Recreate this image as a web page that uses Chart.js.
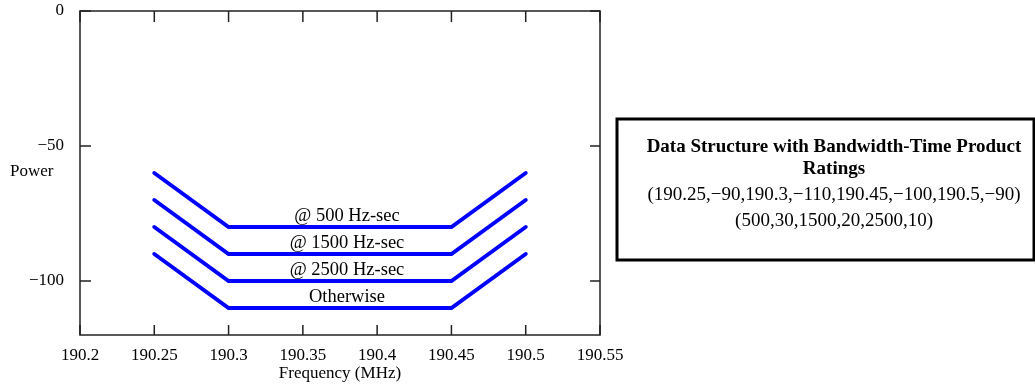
<!DOCTYPE html>
<html>
<head>
<meta charset="utf-8">
<script src="https://cdn.jsdelivr.net/npm/chart.js@4"></script>
<style>
  html, body { margin: 0; padding: 0; background: #fff; }
  #chart { display: block; }
</style>
</head>
<body>
<canvas id="chart" width="1035" height="385"></canvas>
<script>
// frequency points (MHz) shared by all four mask lines
const freq = [190.25, 190.3, 190.45, 190.5];
const power500 = [-60, -80, -80, -60];
const power1500 = [-70, -90, -90, -70];
const power2500 = [-80, -100, -100, -80];
const powerOther = [-90, -110, -110, -90];
const lineLabels = ['@ 500 Hz-sec', '@ 1500 Hz-sec', '@ 2500 Hz-sec', 'Otherwise'];

const xTicks = [190.2, 190.25, 190.3, 190.35, 190.4, 190.45, 190.5, 190.55];
const yTicks = [0, -50, -100];

const boxTitle = ['Data Structure with Bandwidth-Time Product', 'Ratings'];
const boxRow1 = [190.25, -90, 190.3, -110, 190.45, -100, 190.5, -90];
const boxRow2 = [500, 30, 1500, 20, 2500, 10];

const SERIF = '"Liberation Serif", "Times New Roman", serif';
const fmt = (v) => String(v).replace('-', '\u2212');

const series = [power500, power1500, power2500, powerOther];
const datasets = series.map((vals, i) => ({
  label: lineLabels[i],
  data: freq.map((f, j) => ({ x: f, y: vals[j] })),
  showLine: true,
  borderColor: '#0000ff',
  borderWidth: 4,
  borderCapStyle: 'round',
  borderJoinStyle: 'miter',
  pointRadius: 0,
  tension: 0,
}));

const noPad = (s) => {
  s.paddingTop = 0; s.paddingBottom = 0; s.paddingLeft = 0; s.paddingRight = 0;
};

const frame = {
  id: 'frame',
  afterDraw(chart) {
    const { ctx, chartArea: a, scales } = chart;
    const x = scales.x, y = scales.y;
    ctx.save();
    ctx.strokeStyle = '#222';
    ctx.lineWidth = 1.5;
    ctx.strokeRect(a.left, a.top, a.right - a.left, a.bottom - a.top);
    // inward ticks on all sides
    ctx.beginPath();
    xTicks.forEach((v) => {
      const px = x.getPixelForValue(v);
      ctx.moveTo(px, a.bottom); ctx.lineTo(px, a.bottom - 10);
      ctx.moveTo(px, a.top); ctx.lineTo(px, a.top + 11);
    });
    yTicks.forEach((v) => {
      const py = y.getPixelForValue(v);
      ctx.moveTo(a.left, py); ctx.lineTo(a.left + 11, py);
      ctx.moveTo(a.right, py); ctx.lineTo(a.right - 10, py);
    });
    ctx.stroke();

    // labels above each flat segment
    ctx.fillStyle = '#000';
    ctx.font = '18.5px ' + SERIF;
    ctx.textAlign = 'center';
    ctx.textBaseline = 'middle';
    series.forEach((vals, i) => {
      const px = x.getPixelForValue((freq[1] + freq[2]) / 2) + 7;
      const py = y.getPixelForValue(vals[1]) - 11;
      ctx.fillText(lineLabels[i], px, py);
    });

    // axis titles
    ctx.font = '17px ' + SERIF;
    ctx.textAlign = 'left';
    ctx.fillText('Power', 10, 172);
    ctx.textAlign = 'center';
    ctx.fillText('Frequency (MHz)', (a.left + a.right) / 2, 374);

    // data structure box
    ctx.lineWidth = 3;
    ctx.strokeStyle = '#000';
    ctx.strokeRect(617, 119, 417, 141);
    const cx = 834;
    ctx.font = 'bold 19px ' + SERIF;
    ctx.fillText(boxTitle[0], cx, 147);
    ctx.fillText(boxTitle[1], cx, 169);
    ctx.font = '19px ' + SERIF;
    ctx.fillText('(' + boxRow1.map(fmt).join(',') + ')', cx, 195);
    ctx.fillText('(' + boxRow2.map(fmt).join(',') + ')', cx, 221);
    ctx.restore();
  }
};

new Chart(document.getElementById('chart'), {
  type: 'scatter',
  data: { datasets },
  options: {
    responsive: false,
    animation: false,
    layout: { padding: { left: 0, top: 11, right: 435, bottom: 0 } },
    plugins: { legend: { display: false }, tooltip: { enabled: false } },
    scales: {
      x: {
        type: 'linear',
        min: 190.2,
        max: 190.55,
        afterBuildTicks: (s) => { s.ticks = xTicks.map((v) => ({ value: v })); },
        afterFit: (s) => { s.height = 50; noPad(s); },
        grid: { display: false },
        border: { display: false },
        ticks: {
          color: '#000',
          padding: 2,
          maxRotation: 0,
          autoSkip: false,
          font: { family: SERIF, size: 17 },
          callback: (v) => fmt(v),
        },
      },
      y: {
        type: 'linear',
        min: -120,
        max: 0,
        afterBuildTicks: (s) => { s.ticks = yTicks.map((v) => ({ value: v })); },
        afterFit: (s) => { s.width = 80; noPad(s); },
        grid: { display: false },
        border: { display: false },
        ticks: {
          color: '#000',
          padding: 8,
          font: { family: SERIF, size: 17 },
          callback: (v) => fmt(v),
        },
      },
    },
  },
  plugins: [frame],
});
</script>
</body>
</html>
